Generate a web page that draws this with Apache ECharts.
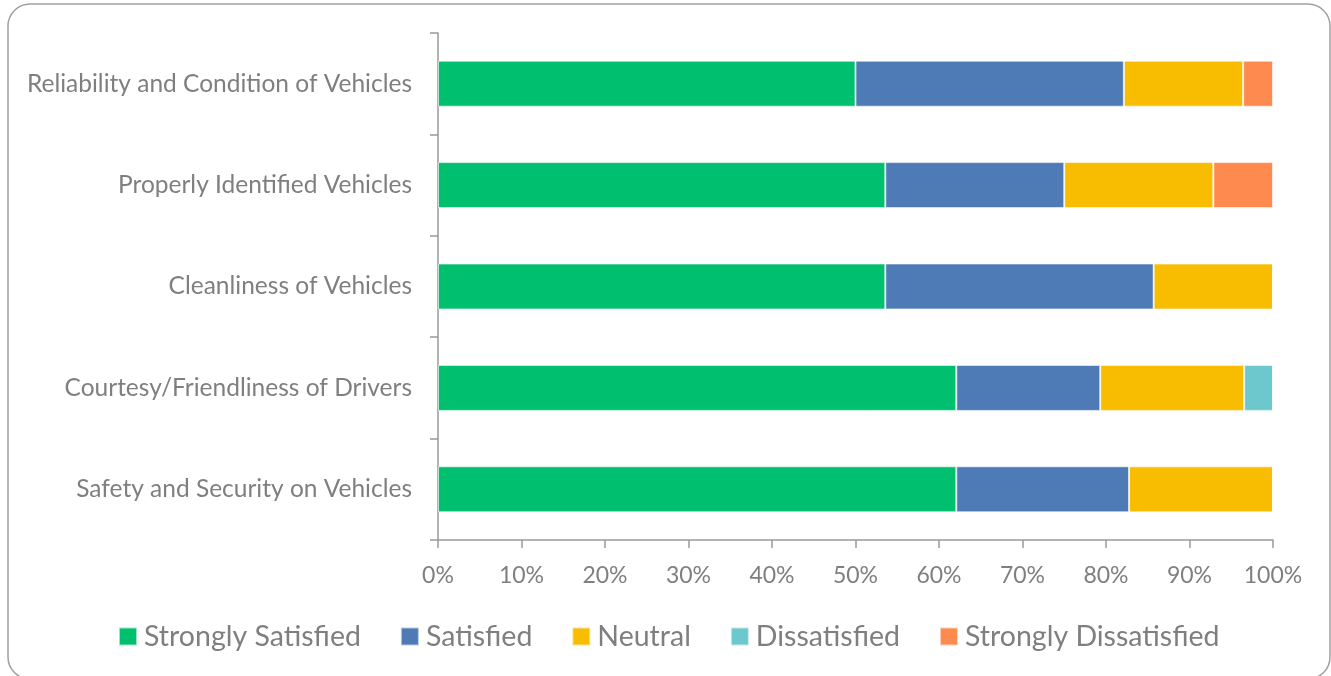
<!DOCTYPE html>
<html><head><meta charset="utf-8">
<script src="https://cdn.jsdelivr.net/npm/echarts@6/dist/echarts.min.js"></script>
<style>html,body{margin:0;padding:0;background:#fff}#c{width:1331px;height:676px}</style>
</head><body><div id="c"></div>
<script>
const categories = ["Safety and Security on Vehicles","Courtesy/Friendliness of Drivers","Cleanliness of Vehicles","Properly Identified Vehicles","Reliability and Condition of Vehicles"];
const seriesNames = ["Strongly Satisfied","Satisfied","Neutral","Dissatisfied","Strongly Dissatisfied"];
const stronglySatisfied = [62.07, 62.07, 53.57, 53.57, 50.00];
const satisfied = [20.69, 17.24, 32.14, 21.43, 32.14];
const neutral = [17.24, 17.24, 14.29, 17.86, 14.29];
const dissatisfied = [0, 3.45, 0, 0, 0];
const stronglyDissatisfied = [0, 0, 0, 7.14, 3.57];
const xTicks = [0,10,20,30,40,50,60,70,80,90,100];
const colors = ["#00BF6F","#4E7AB5","#F8BD00","#6CC8CC","#FF8A50"];
const values = [stronglySatisfied, satisfied, neutral, dissatisfied, stronglyDissatisfied];

const chart = echarts.init(document.getElementById('c'), null, {renderer:'canvas'});
const font = 'Lato, "Open Sans", sans-serif';
chart.setOption({
  animation:false,
  textStyle:{fontFamily:font},
  graphic:[{type:'rect',shape:{x:8,y:4,width:1322,height:675,r:22},style:{fill:'none',stroke:'#a0a0a0',lineWidth:1.5},z:-1}],
  legend:{
    data:seriesNames, top:617, left:113, itemWidth:18, itemHeight:18, itemGap:39,
    icon:'rect', textStyle:{color:'#7f7f7f', fontSize:28.5, fontFamily:font, padding:[0,0,0,2]}
  },
  grid:{left:438, right:58, top:33, bottom:136, containLabel:false},
  xAxis:{
    type:'value', min:0, max:100, interval:10,
    axisLine:{show:true,lineStyle:{color:'#9a9a9a',width:1.5}},
    axisTick:{show:true,length:8,lineStyle:{color:'#9a9a9a',width:1.5}},
    splitLine:{show:false},
    axisLabel:{color:'#7f7f7f',fontSize:23,margin:24,fontFamily:font,formatter:v=>v+'%'}
  },
  yAxis:{
    type:'category', data:categories,
    axisLine:{show:true,lineStyle:{color:'#9a9a9a',width:1.5}},
    axisTick:{show:true,length:8,lineStyle:{color:'#9a9a9a',width:1.5}},
    axisLabel:{color:'#7f7f7f',fontSize:24.5,margin:26,fontFamily:font}
  },
  series: seriesNames.map((n,i)=>({
    name:n, type:'bar', stack:'all', data:values[i], barWidth:46,
    itemStyle:{color:colors[i], borderColor:'rgba(255,255,255,0.6)', borderWidth:1}
  }))
});
</script></body></html>
